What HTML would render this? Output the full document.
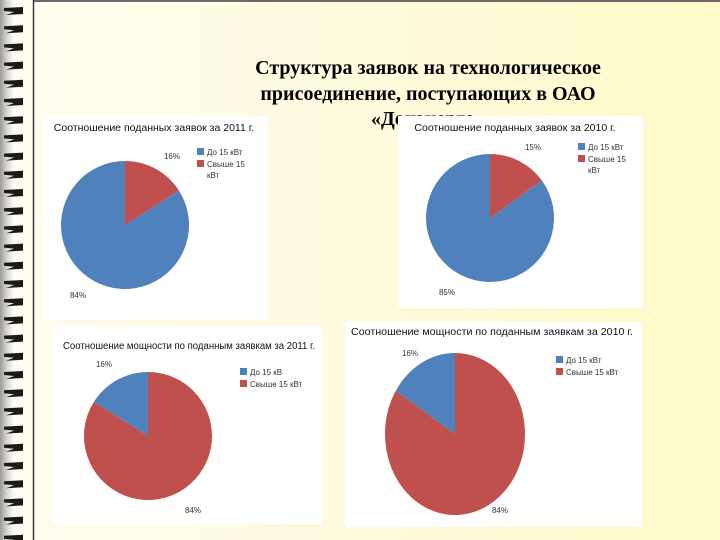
<!DOCTYPE html>
<html><head><meta charset="utf-8"><style>
html,body{margin:0;padding:0;width:720px;height:540px;overflow:hidden;background:#fffbee;}
svg{display:block;font-family:"Liberation Sans","DejaVu Sans",sans-serif;}
</style></head><body>
<svg id="s" width="720" height="540" viewBox="0 0 720 540">
<defs>
<linearGradient id="bg" x1="0" x2="1" y1="0" y2="0"><stop offset="0" stop-color="#fffcf2"/><stop offset="1" stop-color="#fffac8"/></linearGradient>
<linearGradient id="strip" x1="0" x2="1"><stop offset="0" stop-color="#9a9a96"/><stop offset="0.5" stop-color="#d8d6d0"/><stop offset="1" stop-color="#fffcf2"/></linearGradient>
</defs>
<rect x="0" y="0" width="720" height="540" fill="url(#bg)"/>
<rect x="0" y="0" width="14" height="540" fill="url(#strip)"/>
<g id="coils"></g>
<line x1="33.5" y1="0" x2="33.5" y2="540" stroke="#3a3a48" stroke-width="1.5"/>
<line x1="33" y1="1" x2="720" y2="1" stroke="#3a3a48" stroke-width="1.5"/>
<g font-family="'Liberation Serif',serif" font-weight="bold" font-size="20" text-anchor="middle" fill="#000">
<text x="428" y="74">Структура заявок на технологическое</text>
<text x="428" y="100">присоединение, поступающих в ОАО</text>
<text x="428" y="125">«Донэнерго»</text>
</g>
<g id="charts"></g>
</svg>
<script>
// chart data
const chartTitles = ["Соотношение поданных заявок за 2011 г.","Соотношение поданных заявок за 2010 г.","Соотношение мощности по поданным заявкам за 2011 г.","Соотношение мощности по поданным заявкам за 2010 г."];
const upTo15 = [84, 85, 16, 16];
const over15 = [16, 15, 84, 84];
const legend1 = ["До 15 кВт","До 15 кВт","До 15 кВ","До 15 кВт"];
const legend2 = ["Свыше 15 кВт","Свыше 15 кВт","Свыше 15 кВт","Свыше 15 кВт"];
const labels1 = ["84%","85%","16%","16%"];
const labels2 = ["16%","15%","84%","84%"];

const NS="http://www.w3.org/2000/svg";
function mk(tag,attrs,parent){const e=document.createElementNS(NS,tag);for(const k in attrs)e.setAttribute(k,attrs[k]);parent.appendChild(e);return e;}
const coils=document.getElementById('coils');
for(let y=8;y<540;y+=18.2){
  const p=mk('path',{d:`M4 ${y} L23 ${y-1} L23 ${y+6} L6 ${y+7} L14 ${y+4} L4 ${y+3} Z`,fill:'#1a1a1a'},coils);
  
  
}
const layout=[
 {box:[45,116,223,204],title:[154,131],tfs:10.5,tl:0,cx:125,cy:225,rx:64,ry:64,leg:[197,148],wrap:true,l1:[78,298],l2:[172,159]},
 {box:[398,116,245,192],title:[515,131],tfs:10.5,tl:0,cx:490,cy:218,rx:64,ry:64,leg:[578,143],wrap:true,l1:[447,295],l2:[533,150]},
 {box:[52,326,270,198],title:[189,349],tfs:10,tl:252,cx:148,cy:436,rx:64,ry:64,leg:[240,368],wrap:false,l1:[104,367],l2:[193,513]},
 {box:[345,322,297,205],title:[492,335],tfs:10,tl:282,cx:455,cy:434,rx:70,ry:81,leg:[556,356],wrap:false,l1:[410,356],l2:[500,513]}
];
const BLUE="#4f81bd",RED="#c0504d";
const root=document.getElementById('charts');
function pt(L,a){return [L.cx+L.rx*Math.sin(a),L.cy-L.ry*Math.cos(a)];}
function slice(g,L,a0,a1,col,name){
  const [x0,y0]=pt(L,a0),[x1,y1]=pt(L,a1);const big=(a1-a0)>Math.PI?1:0;
  const p=mk('path',{d:`M${L.cx} ${L.cy} L${x0} ${y0} A${L.rx} ${L.ry} 0 ${big} 1 ${x1} ${y1} Z`,fill:col},g);
  
  
}
layout.forEach((L,i)=>{
  const g=mk('g',{},root);
  
  
  const r=mk('rect',{x:L.box[0],y:L.box[1],width:L.box[2],height:L.box[3],fill:'#fff'},g);
  
  
  const ta={x:L.title[0],y:L.title[1],'text-anchor':'middle','font-size':L.tfs,fill:'#111'};
  if(L.tl){ta.textLength=L.tl;ta.lengthAdjust='spacingAndGlyphs';}
  const t=mk('text',ta,g);
  t.textContent=chartTitles[i];
  
  
  const tot=upTo15[i]+over15[i];
  const aRed=over15[i]/tot*2*Math.PI;
  slice(g,L,0,aRed,RED,'slice-over-15');
  slice(g,L,aRed,2*Math.PI,BLUE,'slice-up-to-15');
  [[labels1[i],L.l1],[labels2[i],L.l2]].forEach(([s,p])=>{
    const tx=mk('text',{x:p[0],y:p[1],'text-anchor':'middle','font-size':'8',fill:'#333'},g);
    tx.textContent=s;
    
    
  });
  const lg=mk('g',{},g);
  
  
  const items=[[legend1[i],BLUE],[legend2[i],RED]];
  let y=L.leg[1];
  items.forEach(([s,c],k)=>{
    const sq=mk('rect',{x:L.leg[0],y:y,width:7,height:7,fill:c},lg);
    
    
    const tx=mk('text',{x:L.leg[0]+10,y:y+7,'font-size':'8',fill:'#333'},lg);
    
    
    if(L.wrap&&k===1){const parts=s.split(' ');tx.textContent=parts.slice(0,2).join(' ');
      const t2=mk('text',{x:L.leg[0]+10,y:y+18,'font-size':'8',fill:'#333'},lg);t2.textContent=parts[2];
      
      }
    else tx.textContent=s;
    y+=12;
  });
});
</script>
</body></html>
